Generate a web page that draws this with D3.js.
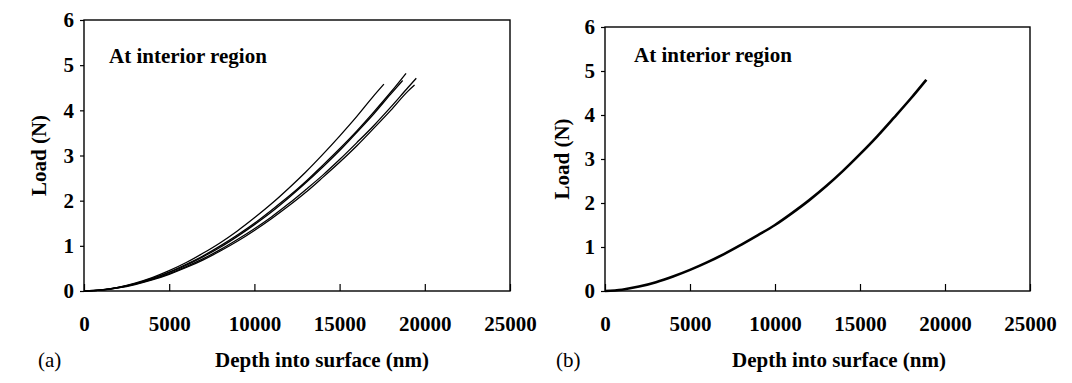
<!DOCTYPE html>
<html>
<head>
<meta charset="utf-8">
<script src="https://cdn.jsdelivr.net/npm/d3@7"></script>
<style>
  body { margin: 0; background: #fff; }
  svg { display: block; }
</style>
</head>
<body>
<div id="chart"></div>
<script>
'use strict';

// axis ticks
var xTicks = [0, 5000, 10000, 15000, 20000, 25000];
var yTicks = [0, 1, 2, 3, 4, 5, 6];

// depth sample positions (nm)
var depthGrid = [0, 1000, 2000, 3000, 4000, 5000, 6000, 7000, 8000, 9000,
  10000, 11000, 12000, 13000, 14000, 15000, 16000, 17000, 18000, 19000];

// (a) five loading curves, load in N
var depthA = depthGrid.slice(0, 18).concat([17600]);
var loadA = [0, 0.023, 0.082, 0.175, 0.297, 0.45, 0.63, 0.84, 1.07, 1.33,
  1.62, 1.93, 2.27, 2.63, 3.02, 3.43, 3.86, 4.32, 4.58];

var depthB = depthGrid.slice(0, 19).concat([18900]);
var loadB = [0, 0.022, 0.079, 0.165, 0.28, 0.42, 0.59, 0.78, 1.0, 1.24,
  1.5, 1.79, 2.09, 2.42, 2.78, 3.15, 3.54, 3.96, 4.4, 4.82];

var depthC = depthGrid.slice(0, 19).concat([18700]);
var loadC = [0, 0.021, 0.075, 0.159, 0.27, 0.41, 0.57, 0.76, 0.97, 1.21,
  1.47, 1.75, 2.06, 2.39, 2.74, 3.11, 3.51, 3.92, 4.36, 4.66];

var depthD = depthGrid.slice(0, 20).concat([19500]);
var loadD = [0, 0.02, 0.072, 0.151, 0.255, 0.385, 0.54, 0.716, 0.916, 1.14,
  1.38, 1.64, 1.93, 2.24, 2.56, 2.91, 3.28, 3.66, 4.07, 4.5, 4.71];

var depthE = depthGrid.slice(0, 20).concat([19400]);
var loadE = [0, 0.018, 0.067, 0.143, 0.244, 0.37, 0.52, 0.69, 0.885, 1.1,
  1.34, 1.6, 1.88, 2.18, 2.51, 2.85, 3.21, 3.6, 4.0, 4.42, 4.56];

// (b) single curve
var depthF = depthGrid.slice(0, 19).concat([18900]);
var loadF = [0, 0.03, 0.1, 0.2, 0.33, 0.48, 0.65, 0.84, 1.05, 1.27,
  1.5, 1.77, 2.06, 2.38, 2.73, 3.11, 3.51, 3.94, 4.38, 4.8];

function zip(xs, ys) {
  return xs.map(function(x, i) { return [x, ys[i]]; });
}

var panels = [
  {
    left: 84, right: 510, top: 20, bottom: 291,
    tag: '(a)', tagX: 38, depthX: 322, loadX: 39, titleX: 109, titleY: 63,
    curves: [zip(depthA, loadA), zip(depthB, loadB), zip(depthC, loadC),
      zip(depthD, loadD), zip(depthE, loadE)],
    lineWidth: 1.3
  },
  {
    left: 605, right: 1030, top: 27, bottom: 291,
    tag: '(b)', tagX: 556, depthX: 839, loadX: 562, titleX: 634, titleY: 62,
    curves: [zip(depthF, loadF)],
    lineWidth: 2.6
  }
];

var fontSize = 21;
var serif = '"Times New Roman", "Liberation Serif", Tinos, "DejaVu Serif", serif';

var svg = d3.select('#chart')
  .append('svg')
  .attr('width', 1072)
  .attr('height', 383);

function label(sel, bold) {
  return sel
    .attr('fill', '#000')
    .style('font-family', serif)
    .style('font-size', fontSize + 'px')
    .style('font-weight', bold ? 'bold' : 'normal');
}

panels.forEach(function(p) {
  var x = d3.scaleLinear().domain([0, 25000]).range([p.left, p.right]);
  var y = d3.scaleLinear().domain([0, 6]).range([p.bottom, p.top]);

  var g = svg.append('g');

  // x axis, ticks point inward
  var xAxis = g.append('g')
    .attr('transform', 'translate(0,' + p.bottom + ')')
    .call(d3.axisBottom(x).tickValues(xTicks).tickSizeInner(-7).tickSizeOuter(0)
      .tickPadding(25).tickFormat(d3.format('d')));

  // y axis, short outward ticks
  var yAxis = g.append('g')
    .attr('transform', 'translate(' + p.left + ',0)')
    .call(d3.axisLeft(y).tickValues(yTicks).tickSize(4).tickPadding(6)
      .tickFormat(d3.format('d')));

  [xAxis, yAxis].forEach(function(a) {
    a.select('.domain').remove();
    a.selectAll('line').attr('stroke', '#000').attr('stroke-width', 1.2);
    label(a.selectAll('text'), true);
  });

  // plot frame
  g.append('rect')
    .attr('x', p.left)
    .attr('y', p.top)
    .attr('width', p.right - p.left)
    .attr('height', p.bottom - p.top)
    .attr('fill', 'none')
    .attr('stroke', '#000')
    .attr('stroke-width', 1.4);

  var line = d3.line()
    .x(function(d) { return x(d[0]); })
    .y(function(d) { return y(d[1]); })
    .curve(d3.curveMonotoneX);

  g.selectAll('path.curve')
    .data(p.curves)
    .enter()
    .append('path')
    .attr('class', 'curve')
    .attr('d', line)
    .attr('fill', 'none')
    .attr('stroke', '#000')
    .attr('stroke-width', p.lineWidth);

  label(g.append('text'), true)
    .attr('x', p.titleX)
    .attr('y', p.titleY)
    .text('At interior region');

  label(g.append('text'), true)
    .attr('transform', 'translate(' + p.loadX + ',' + ((p.top + p.bottom) / 2) + ') rotate(-90)')
    .attr('text-anchor', 'middle')
    .attr('dy', '0.35em')
    .text('Load (N)');

  label(g.append('text'), true)
    .attr('x', p.depthX)
    .attr('y', 367)
    .attr('text-anchor', 'middle')
    .text('Depth into surface (nm)');

  label(g.append('text'), false)
    .attr('x', p.tagX)
    .attr('y', 367)
    .text(p.tag);
});
</script>
</body>
</html>
